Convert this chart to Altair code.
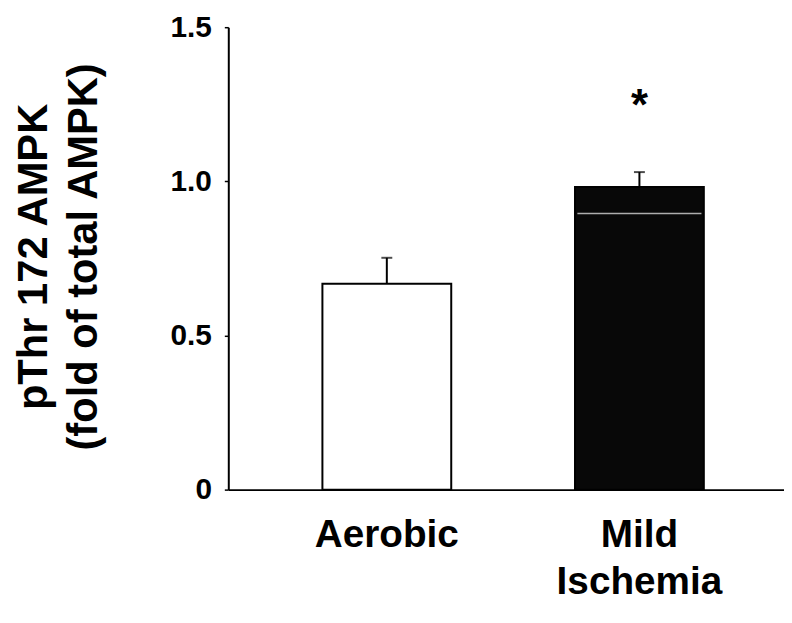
import altair as alt
import pandas as pd

groups = ["Aerobic", "Mild Ischemia"]
means = [0.668, 0.982]
sems = [0.084, 0.048]
fills = ["#ffffff", "#080808"]
sig_group = ["Mild Ischemia"]
sig_level = [1.20]
artifact_group = ["Mild Ischemia"]
artifact_level = [0.896]

df = pd.DataFrame({
    "group": groups,
    "mean": means,
    "upper": [m + s for m, s in zip(means, sems)],
    "fill": fills,
})
sig = pd.DataFrame({"group": sig_group, "y": sig_level, "t": ["*"]})
art = pd.DataFrame({"group": artifact_group, "y": artifact_level})

FONT = "Liberation Sans"

xscale = alt.Scale(domain=groups, paddingInner=0.49, paddingOuter=0.345, align=0.54)
yscale = alt.Scale(domain=[0, 1.5], nice=False)

xenc = alt.X(
    "group:N",
    scale=xscale,
    sort=groups,
    axis=alt.Axis(
        title=None,
        labelAngle=0,
        ticks=False,
        domainColor="black",
        domainWidth=2,
        labelFont=FONT,
        labelFontWeight="bold",
        labelFontSize=39,
        labelColor="black",
        labelPadding=26,
        labelLineHeight=48,
        labelBaseline="top",
        labelExpr="split(datum.label, ' ')",
    ),
)
yenc = alt.Y(
    "mean:Q",
    scale=yscale,
    axis=alt.Axis(
        values=[0, 0.5, 1.0, 1.5],
        labelExpr="datum.value == 0 ? '0' : format(datum.value, '.1f')",
        grid=False,
        domainColor="black",
        domainWidth=2,
        tickColor="black",
        tickWidth=1.5,
        tickSize=4,
        labelFont=FONT,
        labelFontWeight="bold",
        labelFontSize=30,
        labelColor="black",
        labelPadding=13,
        title=["pThr 172 AMPK", "(fold of total AMPK)"],
        titleFont=FONT,
        titleFontWeight="bold",
        titleFontSize=42,
        titleColor="black",
        titleAngle=-90,
        titleAlign="center",
        titleBaseline="alphabetic",
        titleLineHeight=50,
        titleX=-183,
        titleY=231,
    ),
)

bars = alt.Chart(df).mark_bar(stroke="black", strokeWidth=2).encode(
    x=xenc,
    y=yenc,
    fill=alt.Fill("fill:N", scale=None),
)

stems = alt.Chart(df).mark_rule(color="black", strokeWidth=2).encode(
    x=alt.X("group:N", scale=xscale, sort=groups),
    y=alt.Y("mean:Q", scale=yscale),
    y2="upper:Q",
)

caps = alt.Chart(df).mark_tick(color="black", thickness=2, size=11).encode(
    x=alt.X("group:N", scale=xscale, sort=groups),
    y=alt.Y("upper:Q", scale=yscale),
)

artifact = alt.Chart(art).mark_tick(color="#f4f4f4", thickness=1.5, size=125).encode(
    x=alt.X("group:N", scale=xscale, sort=groups),
    y=alt.Y("y:Q", scale=yscale),
)

stars = alt.Chart(sig).mark_text(
    font=FONT, fontWeight="bold", fontSize=44, color="black", baseline="alphabetic", align="center"
).encode(
    x=alt.X("group:N", scale=xscale, sort=groups),
    y=alt.Y("y:Q", scale=yscale),
    text="t:N",
)

chart = (
    alt.layer(bars, stems, caps, artifact, stars)
    .properties(
        width=560,
        height=466,
        padding={"left": 222, "top": 17, "right": 0, "bottom": 124},
        autosize=alt.AutoSizeParams(type="none"),
        background="white",
    )
    .configure_view(stroke=None)
)

chart.save("out.html", embed_options={"renderer": "svg", "actions": False})
